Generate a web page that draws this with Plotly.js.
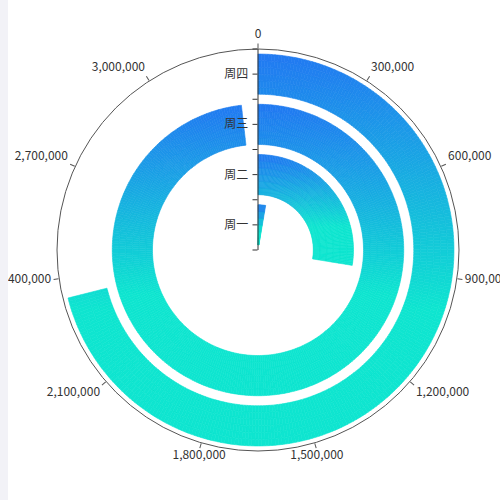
<!DOCTYPE html>
<html>
<head>
<meta charset="utf-8">
<script src="https://cdn.plot.ly/plotly-3.0.1.min.js"></script>
<style>
html,body{margin:0;padding:0;background:#f2f2f7;width:500px;height:500px;overflow:hidden;}
#chart{position:absolute;left:8px;top:0;width:492px;height:500px;background:#fff;}
</style>
</head>
<body>
<div id="chart"></div>
<script>
// ---- data ----
const categories = ['周一', '周二', '周三', '周四'];
const values = [90000, 910000, 3240000, 2345000];
const angleMax = 3300000;
const angleTicks = [0, 300000, 600000, 900000, 1200000, 1500000, 1800000, 2100000, 2400000, 2700000, 3000000];
const colorTop = [34, 121, 242];
const colorBottom = [15, 229, 208];
const gradientEnd = 0.65;

// ---- helpers ----
const toDeg = v => v / angleMax * 360;
const fmt = v => v.toLocaleString('en-US');
function mix(t) {
  t = Math.max(0, Math.min(1, t / gradientEnd));
  const c = colorTop.map((a, k) => Math.round(a + (colorBottom[k] - a) * t));
  return 'rgb(' + c.join(',') + ')';
}
const barFrac = 0.8;
const traces = [];
categories.forEach((cat, i) => {
  const end = toDeg(values[i]);
  const r0 = i + (1 - barFrac) / 2, r1 = i + 1 - (1 - barFrac) / 2;
  let ymin = Infinity, ymax = -Infinity;
  const nS = 720;
  for (let s = 0; s <= nS; s++) {
    const a = end * s / nS * Math.PI / 180;
    [r0, r1].forEach(r => { const y = -r * Math.cos(a); ymin = Math.min(ymin, y); ymax = Math.max(ymax, y); });
  }
  const nA = Math.max(2, Math.ceil(end / 1.0));
  const nR = 6;
  const th = [], w = [], base = [], rr = [], col = [];
  for (let a = 0; a < nA; a++) {
    const t0 = end * a / nA, t1 = end * (a + 1) / nA;
    const tm = (t0 + t1) / 2;
    for (let k = 0; k < nR; k++) {
      const b0 = r0 + (r1 - r0) * k / nR, b1 = r0 + (r1 - r0) * (k + 1) / nR;
      const rm = (b0 + b1) / 2;
      const y = -rm * Math.cos(tm * Math.PI / 180);
      th.push(tm); w.push(t1 - t0); base.push(b0); rr.push(b1 - b0);
      col.push(mix((y - ymin) / (ymax - ymin)));
    }
  }
  traces.push({
    type: 'barpolar', subplot: 'polar', name: cat,
    theta: th, width: w, base: base, r: rr,
    marker: {color: col, line: {color: col, width: 0.6}},
    hoverinfo: 'skip', showlegend: false
  });
});

// angular tick labels (ECharts-like alignment) on a slightly larger overlay polar
const tpos = angleTicks.map(v => {
  const a = toDeg(v) * Math.PI / 180;
  const x = Math.sin(a), y = -Math.cos(a);
  const h = Math.abs(x) < 0.3 ? 'center' : (x > 0 ? 'right' : 'left');
  const vv = Math.abs(y) < 0.3 ? 'middle' : (y > 0 ? 'bottom' : 'top');
  return vv + ' ' + h;
});
const fontBase = {family: '"Noto Sans CJK SC", "Noto Sans", sans-serif', size: 12, color: '#333'};
traces.push({
  type: 'scatterpolar', subplot: 'polar2', mode: 'text',
  r: angleTicks.map(() => 3.999), theta: angleTicks.map(toDeg),
  text: angleTicks.map(fmt), textposition: tpos, textfont: fontBase,
  marker: {size: 2}, cliponaxis: false, hoverinfo: 'skip', showlegend: false
});

const R = 201, R2 = 209, cx = 250, cy = 250, W = 492, H = 500;
const dom = {x: [(cx - R) / W, (cx + R) / W], y: [(cy - R) / H, (cy + R) / H]};
const dom2 = {x: [(cx - R2) / W, (cx + R2) / W], y: [(cy - R2) / H, (cy + R2) / H]};
const layout = {
  width: W, height: H,
  margin: {l: 0, r: 0, t: 0, b: 0},
  paper_bgcolor: '#fff',
  font: fontBase,
  showlegend: false,
  barmode: 'overlay',
  polar: {
    domain: dom, bgcolor: 'rgba(0,0,0,0)', hole: 0,
    angularaxis: {
      rotation: 90, direction: 'clockwise', type: 'linear',
      tickmode: 'array', tickvals: angleTicks.map(toDeg), showticklabels: false,
      ticks: 'outside', ticklen: 5, tickcolor: '#555', tickwidth: 1,
      showline: true, linecolor: '#555', linewidth: 1, showgrid: false
    },
    radialaxis: {
      range: [0, 4], angle: 90, side: 'counterclockwise',
      tickmode: 'array', tickvals: [0, 1, 2, 3, 4, 0.5, 1.5, 2.5, 3.5],
      ticktext: ['', '', '', '', ''].concat(categories),
      tickangle: 90, tickfont: fontBase,
      ticks: 'outside', ticklen: 5, tickcolor: '#333', tickwidth: 1,
      showline: true, linecolor: '#333', linewidth: 1, showgrid: false
    }
  },
  polar2: {
    domain: dom2, bgcolor: 'rgba(0,0,0,0)',
    angularaxis: {rotation: 90, direction: 'clockwise', type: 'linear', visible: false, showgrid: false, showline: false},
    radialaxis: {range: [0, 4], visible: false, showgrid: false, showline: false}
  }
};
Plotly.newPlot('chart', traces, layout, {staticPlot: true, displayModeBar: false});
</script>
</body>
</html>
